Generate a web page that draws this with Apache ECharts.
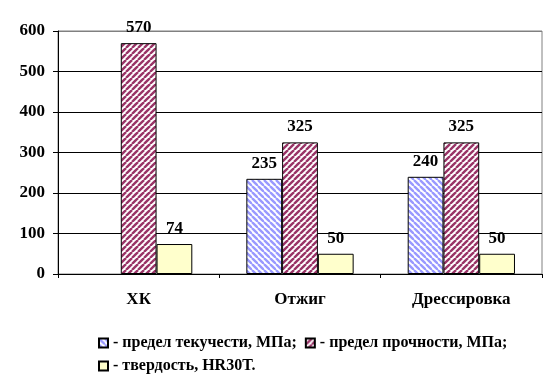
<!DOCTYPE html>
<html><head><meta charset="utf-8">
<script src="https://cdn.jsdelivr.net/npm/echarts@6/dist/echarts.min.js"></script>
<style>html,body{margin:0;padding:0;background:#fff}#c{width:559px;height:385px}</style>
</head><body><div id="c"></div>
<script>
const categories = ['ХК', 'Отжиг', 'Дрессировка'];
const yieldVals = [null, 235, 240];
const strengthVals = [570, 325, 325];
const hardnessVals = [74, 50, 50];
const seriesNames = ['- предел текучести, МПа;', '- предел прочности, МПа;', '- твердость, HR30T.'];
const yTicks = [0, 100, 200, 300, 400, 500, 600];

function hatch(color, dir) {
  const s = 6;
  const cv = document.createElement('canvas');
  cv.width = s; cv.height = s;
  const ctx = cv.getContext('2d');
  ctx.fillStyle = '#ffffff';
  ctx.fillRect(0, 0, s, s);
  ctx.strokeStyle = color;
  ctx.lineWidth = 2.4;
  for (const k of [-s, 0, s]) {
    ctx.beginPath();
    if (dir === '/') { ctx.moveTo(k, s); ctx.lineTo(k + s, 0); }
    else { ctx.moveTo(k, 0); ctx.lineTo(k + s, s); }
    ctx.stroke();
  }
  return { image: cv, repeat: 'repeat' };
}

const font = '"Liberation Serif", "Times New Roman", serif';
const lbl = { show: true, position: 'top', distance: 7, color: '#000', fontFamily: font, fontWeight: 'bold', fontSize: 17 };
const legText = { fontFamily: font, fontWeight: 'bold', fontSize: 16, color: '#000' };

const chart = echarts.init(document.getElementById('c'), null, { renderer: 'canvas' });
chart.setOption({
  animation: false,
  backgroundColor: '#fff',
  grid: { left: 58, right: 17, top: 31, bottom: 111, show: true, borderColor: '#808080', borderWidth: 1, backgroundColor: 'transparent' },
  legend: [
    { data: [seriesNames[0], seriesNames[1]], icon: 'rect', left: 93, top: 330, itemWidth: 9, itemHeight: 9, itemGap: 8, textStyle: legText },
    { data: [seriesNames[2]], icon: 'rect', left: 93, top: 353, itemWidth: 9, itemHeight: 9, itemGap: 8, textStyle: legText }
  ],
  xAxis: {
    type: 'category', data: categories,
    axisLine: { lineStyle: { color: '#000', width: 1 } },
    axisTick: { show: true, length: 4, lineStyle: { color: '#000' } },
    axisLabel: { margin: 17, color: '#000', fontFamily: font, fontWeight: 'bold', fontSize: 17 }
  },
  yAxis: {
    type: 'value', min: 0, max: 600, interval: 100,
    axisLine: { show: true, lineStyle: { color: '#000', width: 1 } },
    axisTick: { show: true, length: 5, lineStyle: { color: '#000' } },
    axisLabel: { margin: 13, color: '#000', fontFamily: font, fontWeight: 'bold', fontSize: 17,
      formatter: v => yTicks.includes(v) ? String(v) : '' },
    splitLine: { show: true, lineStyle: { color: ['#000', '#000', '#000', '#000', '#000', '#000', '#808080'], width: 1 } }
  },
  series: [
    { name: seriesNames[0], type: 'bar', data: yieldVals, barGap: '0%', barCategoryGap: '33.5%',
      itemStyle: { color: hatch('#9999ff', '\\'), borderColor: '#000', borderWidth: 1 }, label: lbl },
    { name: seriesNames[1], type: 'bar', data: strengthVals,
      itemStyle: { color: hatch('#993366', '/'), borderColor: '#000', borderWidth: 1 }, label: lbl },
    { name: seriesNames[2], type: 'bar', data: hardnessVals,
      itemStyle: { color: '#ffffcc', borderColor: '#000', borderWidth: 1 }, label: lbl }
  ]
});
</script></body></html>
